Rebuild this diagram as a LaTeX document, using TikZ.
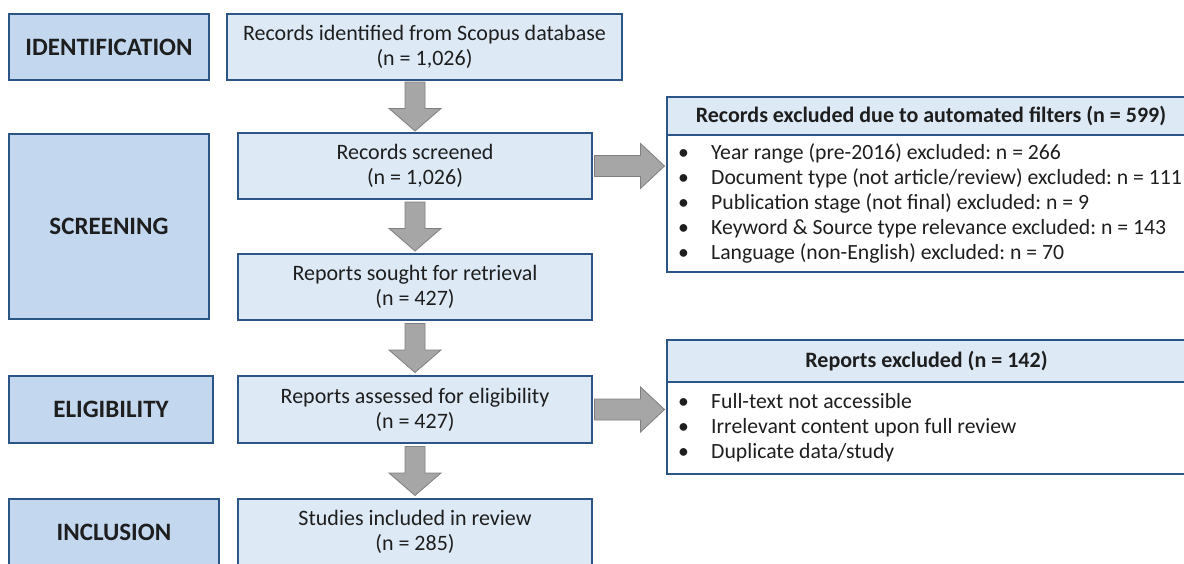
\documentclass[tikz,border=0pt]{standalone}
\usepackage{fontspec}
\setmainfont{Carlito}
\usetikzlibrary{calc}
\frenchspacing
\definecolor{bordc}{HTML}{2B5585}
\definecolor{stagefill}{HTML}{C3D8EF}
\definecolor{boxfill}{HTML}{DDEAF6}
\definecolor{arrowfill}{HTML}{A6A6A6}
\definecolor{arrowdraw}{HTML}{7F7F7F}
\definecolor{txt}{HTML}{1E1E1E}
\newcommand\dnarrow[1]{%
  \draw[blockarrow] ($(#1)+(-10,-24.5)$) -- ($(#1)+(10,-24.5)$) -- ($(#1)+(10,2)$)
    -- ($(#1)+(26,2)$) -- ($(#1)+(0,24.5)$) -- ($(#1)+(-26,2)$) -- ($(#1)+(-10,2)$) -- cycle;}
\newcommand\rtarrow[1]{%
  \draw[blockarrow] ($(#1)+(-35,-10.5)$) -- ($(#1)+(11,-10.5)$) -- ($(#1)+(11,-22.5)$)
    -- ($(#1)+(35,0)$) -- ($(#1)+(11,22.5)$) -- ($(#1)+(11,10.5)$) -- ($(#1)+(-35,10.5)$) -- cycle;}
\begin{document}
\begin{tikzpicture}[x=1pt,y=-1pt,
  every node/.style={text=txt},
  stage/.style={draw=bordc, line width=2pt, fill=stagefill, inner sep=0pt,
    font=\fontsize{25}{30}\selectfont\bfseries},
  box/.style={draw=bordc, line width=2pt, fill=boxfill, inner sep=0pt, align=center,
    font=\fontsize{22}{25}\selectfont},
  listbox/.style={draw=bordc, line width=2pt, fill=white, inner sep=0pt},
  headbox/.style={draw=bordc, line width=2pt, fill=boxfill, inner sep=0pt,
    font=\fontsize{22}{25}\selectfont\bfseries},
  listtext/.style={inner sep=0pt, anchor=north west, align=left,
    font=\fontsize{21.7}{25}\selectfont},
  blockarrow/.style={draw=arrowdraw, fill=arrowfill, line width=0.8pt, line join=miter}
]
\useasboundingbox (0,0) rectangle (1184,563);

% stage labels
\node[stage, minimum width=200pt, minimum height=66pt] (sid) at (109,47) {IDENTIFICATION};
\node[stage, minimum width=200pt, minimum height=185pt] (sscr) at (109,226.5) {SCREENING};
\node[stage, minimum width=204pt, minimum height=67pt] (seli) at (111,409.5) {ELIGIBILITY};
\node[stage, minimum width=210pt, minimum height=66pt] (sinc) at (114,532) {INCLUSION};

% main flow
\node[box, minimum width=395pt, minimum height=66pt] (recid) at (424.5,47)
  {Records identified from Scopus database\\(n = 1,026)};
\node[box, minimum width=354pt, minimum height=66pt] (recscr) at (415,166)
  {Records screened\\(n = 1,026)};
\node[box, minimum width=354pt, minimum height=66pt] (repsought) at (415,287)
  {Reports sought for retrieval\\(n = 427)};
\node[box, minimum width=354pt, minimum height=67pt] (repass) at (415,409.5)
  {Reports assessed for eligibility\\(n = 427)};
\node[box, minimum width=354pt, minimum height=66pt] (studies) at (415,532)
  {Studies included in review\\(n = 285)};

% exclusion boxes
\node[listbox, minimum width=519pt, minimum height=175pt] (exa) at (926.5,184.5) {};
\node[headbox, minimum width=519pt, minimum height=38pt] (exah) at (926.5,116)
  {\hspace*{9pt}Records excluded due to automated filters (n = 599)};
\node[listtext] (exal) at (678,141.5) {%
  \begin{tabular}{@{}l@{}}
  \makebox[33pt][l]{\textbullet}Year range (pre-2016) excluded: n = 266\\
  \makebox[33pt][l]{\textbullet}Document type (not article/review) excluded: n = 111\\
  \makebox[33pt][l]{\textbullet}Publication stage (not final) excluded: n = 9\\
  \makebox[33pt][l]{\textbullet}Keyword \& Source type relevance excluded: n = 143\\
  \makebox[33pt][l]{\textbullet}Language (non-English) excluded: n = 70
  \end{tabular}};

\node[listbox, minimum width=519pt, minimum height=134pt] (exb) at (926.5,407) {};
\node[headbox, minimum width=519pt, minimum height=42pt] (exbh) at (926.5,361)
  {Reports excluded (n = 142)};
\node[listtext] (exbl) at (678,390.5) {%
  \begin{tabular}{@{}l@{}}
  \makebox[33pt][l]{\textbullet}Full-text not accessible\\
  \makebox[33pt][l]{\textbullet}Irrelevant content upon full review\\
  \makebox[33pt][l]{\textbullet}Duplicate data/study
  \end{tabular}};

% connector positions
\coordinate (c1) at ($(recid.south -| recscr.north)!0.5!(recscr.north)$);
\coordinate (c2) at ($(recscr.south)!0.5!(repsought.north)$);
\coordinate (c3) at ($(repsought.south)!0.5!(repass.north)$);
\coordinate (c4) at ($(repass.south)!0.5!(studies.north)$);
\coordinate (c5) at ($(recscr.east)!0.5!(recscr.east -| exa.west)$);
\coordinate (c6) at ($(repass.east)!0.5!(repass.east -| exb.west)$);

% down arrows
\dnarrow{c1}
\dnarrow{c2}
\dnarrow{c3}
\dnarrow{c4}
% right arrows
\rtarrow{c5}
\rtarrow{c6}
\end{tikzpicture}
\end{document}
